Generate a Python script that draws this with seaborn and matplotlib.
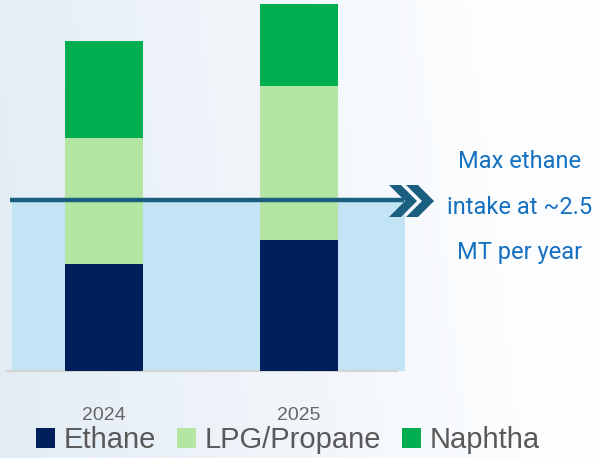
import numpy as np
import pandas as pd
import matplotlib
matplotlib.use("Agg")
import matplotlib.pyplot as plt
from matplotlib.patches import Rectangle, Polygon, Patch
import seaborn as sns

# ---- data ----
years = ["2024", "2025"]
ethane = [1.56, 1.92]
lpg = [1.84, 2.25]
naphtha = [1.42, 1.19]
series_names = ["Ethane", "LPG/Propane", "Naphtha"]
series_colors = ["#001f5c", "#b5e5a3", "#00ae4f"]
max_intake = 2.5
note_lines = ["Max ethane", "intake at ~2.5", "MT per year"]

sns.set_theme(style="white")
plt.rcParams["font.family"] = ["Liberation Sans", "DejaVu Sans"]

W, H = 600, 458
fig = plt.figure(figsize=(W / 100, H / 100), dpi=100)

# background gradient
bg = fig.add_axes([0, 0, 1, 1], zorder=-10)
gx = np.linspace(0, 1, 300)
gy = np.linspace(0, 1, 230)
GX, GY = np.meshgrid(gx, gy)
val = np.clip(GX * 1.1 + (1 - GY) * 0.1, 0, 1)
c0 = np.array([0.89, 0.925, 0.96])
c1 = np.array([0.99, 0.995, 1.0])
img = c0[None, None, :] * (1 - val[..., None]) + c1[None, None, :] * val[..., None]
bg.imshow(img, aspect="auto", extent=[0, 1, 0, 1])
bg.set_axis_off()

# main axes: px mapping
x_c0, dx = 104.0, 195.0
base_py, py_per = 371.0, 68.4
ymax = 5.4
left_px = x_c0 - 0.5 * dx
ax = fig.add_axes([left_px / W, (H - base_py) / H, 2 * dx / W, ymax * py_per / H])
ax.patch.set_alpha(0)

def px2x(px):
    return (px - x_c0) / dx

def py2y(py):
    return (base_py - py) / py_per

df = pd.DataFrame({"year": years, "Ethane": ethane, "LPG": lpg, "Naphtha": naphtha})
df["top3"] = df["Ethane"] + df["LPG"] + df["Naphtha"]
df["top2"] = df["Ethane"] + df["LPG"]

# light blue band (max intake region)
ax.add_patch(Rectangle((px2x(12), 0), px2x(405) - px2x(12), max_intake - 0.03,
                       facecolor="#c2e4f4", edgecolor="none", zorder=0, clip_on=False))

sns.barplot(data=df, x="year", y="top3", color=series_colors[2], width=0.4,
            linewidth=0, saturation=1, ax=ax, zorder=2)
sns.barplot(data=df, x="year", y="top2", color=series_colors[1], width=0.4,
            linewidth=0, saturation=1, ax=ax, zorder=3)
sns.barplot(data=df, x="year", y="Ethane", color=series_colors[0], width=0.4,
            linewidth=0, saturation=1, ax=ax, zorder=4)

ax.set_xlim(-0.5, 1.5)
ax.set_ylim(0, ymax)
ax.set_xlabel("")
ax.set_ylabel("")
ax.set_yticks([])
for s in ["top", "left", "right"]:
    ax.spines[s].set_visible(False)
ax.spines["bottom"].set_color("#d4d4d4")
ax.spines["bottom"].set_linewidth(1.6)
ax.tick_params(axis="x", length=0, pad=26, labelsize=14, labelcolor="#666666")

# arrow line
line_col = "#1a5f80"
ax.plot([px2x(10), px2x(404)], [max_intake, max_intake], color=line_col, lw=3.2,
        solid_capstyle="butt", zorder=6, clip_on=False)
# chevrons
def chevron(x0):
    top, bot, mid = 185, 217, 201
    w, d = 12, 16
    pts = [(x0, top), (x0 + w, top), (x0 + w + d, mid), (x0 + w, bot), (x0, bot), (x0 + d, mid)]
    return Polygon([(px2x(p), py2y(q)) for p, q in pts], closed=True,
                   facecolor=line_col, edgecolor="none", zorder=7, clip_on=False)
ax.add_patch(chevron(389))
ax.add_patch(chevron(406))

# note text
for i, t in enumerate(note_lines):
    fig.text(520 / W, 1 - (162 + i * 45.5) / H, t, ha="center", va="center",
             fontsize=17, color="#1570c0", family=["Roboto", "DejaVu Sans"])

# legend
handles = [Patch(facecolor=c, edgecolor="none", label=n) for c, n in zip(series_colors, series_names)]
fig.legend(handles=handles, loc="center", bbox_to_anchor=(288 / W, 1 - 440 / H), ncol=3,
           frameon=False, fontsize=21, handlelength=0.66, handleheight=0.66,
           handletextpad=0.3, columnspacing=0.7, labelcolor="#595959", borderpad=0)

fig.savefig("out.png", dpi=100)
